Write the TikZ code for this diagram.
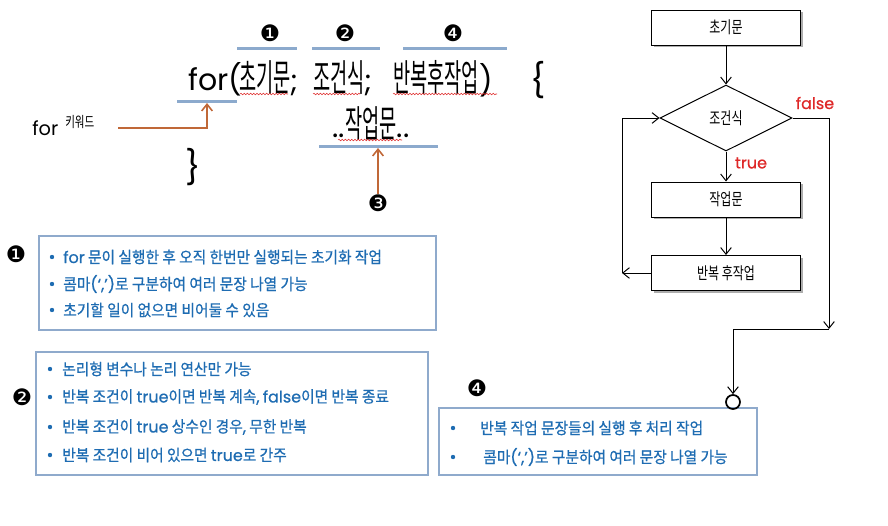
\documentclass[tikz,border=0pt]{standalone}
\usepackage{fontspec}
\setmainfont{Noto Sans CJK KR}
\newfontfamily\kr[FakeStretch=0.92,FakeBold=0.7]{Noto Sans CJK KR}
\newfontfamily\krT[FakeStretch=0.5]{Noto Sans CJK KR}
\newfontfamily\krF[FakeStretch=0.72]{Noto Sans CJK KR}
\newfontfamily\lat{Poppins}
\newfontfamily\latB[FakeBold=0.7]{Poppins}
\newfontfamily\dv{DejaVu Sans}
\newcommand\la[1]{{\lat #1}}
\newcommand\lb[1]{{\latB #1}}
\usetikzlibrary{arrows.meta,shadows,decorations.pathmorphing,shapes.geometric}
\definecolor{txtblue}{RGB}{30,108,178}
\definecolor{boxedge}{RGB}{143,170,204}
\definecolor{barblue}{RGB}{140,170,205}
\definecolor{arrorange}{RGB}{192,104,56}
\definecolor{fred}{RGB}{222,40,40}
\begin{document}
\begin{tikzpicture}[x=0.75pt,y=-0.75pt,
  bar/.style={barblue,line width=2.25pt},
  oarr/.style={arrorange,line width=1.5pt,-{Straight Barb[length=5pt,width=8pt,line width=1.2pt]}},
  farr/.style={black,line width=0.75pt,-{Straight Barb[length=5pt,width=8pt]}},
  fbox/.style={draw,line width=0.75pt,fill=white,minimum width=111.75pt,minimum height=26.25pt,inner sep=0,
    font=\krF\fontsize{12.5}{14}\selectfont,
    drop shadow={shadow xshift=1.5pt,shadow yshift=-1.5pt,fill=black!40,opacity=0.8}},
  ttl/.style={inner sep=0,font=\krT\fontsize{28}{30}\selectfont},
  ttlat/.style={inner sep=0,font=\lat\fontsize{22.5}{26}\selectfont},
  num/.style={inner sep=0,font=\dv\fontsize{17}{18}\selectfont},
  txt/.style={anchor=west,inner sep=0,text=txtblue,font=\kr\fontsize{12}{14}\selectfont},
  tbox/.style={draw=boxedge,line width=0.9pt},
  squig/.style={fred,line width=0.4pt,decorate,decoration={snake,amplitude=0.6pt,segment length=2.4pt}},
  lbl/.style={inner sep=0,text=fred,font=\latB\fontsize{12}{14}\selectfont},
  dot/.style={txtblue}
]
\useasboundingbox (0,0) rectangle (888,525);

% ---------------- title statement ----------------
\node[ttlat,anchor=base west] (t0) at (188,90) {for(};
\node[ttl,anchor=base west] (t1) at (239,91) {초기문{\lat\fontsize{22.5}{26}\selectfont;}};
\node[ttl,anchor=base west] (t2) at (313,91) {조건식{\lat\fontsize{22.5}{26}\selectfont;}};
\node[ttl,anchor=base west] (t3) at (393,91) {반복후작업{\lat\fontsize{22.5}{26}\selectfont)}};
\node[ttlat,anchor=base west,font=\lat\fontsize{25}{28}\selectfont] (t4) at (530,92) {\{};
\node[ttl,anchor=base] (t5) at (371,137) {{\lat\fontsize{22.5}{26}\selectfont..}작업문{\lat\fontsize{22.5}{26}\selectfont..}};
\node[ttlat,font=\lat\fontsize{25}{28}\selectfont] (t6) at (193,167) {\}};

% spell-check squiggles
\draw[squig] (240,94) -- (288,94);
\draw[squig] (313,94) -- (360,94);
\draw[squig] (393,94) -- (497,94);
\draw[squig] (338,140) -- (402,140);

% blue bars
\draw[bar] (237,48) -- (297,48);
\draw[bar] (312,48) -- (380,48);
\draw[bar] (403,48) -- (507,48);
\draw[bar] (177,101) -- (237,101);
\draw[bar] (319,146) -- (438,146);

% numbers
\node[num] (n1) at (270,33) {❶};
\node[num] (n2) at (345,33) {❷};
\node[num] (n4) at (453,33) {❹};
\node[num] (n3) at (378,203) {❸};

% for keyword
\node[anchor=base west,inner sep=0,font=\lat\fontsize{14.5}{16}\selectfont] (kwf) at (32,135) {for};
\node[anchor=base west,inner sep=0,font=\krF\fontsize{11}{12}\selectfont] (kwk) at (65,127) {키워드};
\coordinate (ka) at (118,128);
\coordinate (fb) at (207,103);
\draw[oarr] (ka) -| (fb);
\coordinate (b3) at (378,148);
\draw[oarr] (n3.north) -- (b3);

% ---------------- explanation boxes ----------------
\draw[tbox] (39,236) rectangle (436,330);
\node[num] (m1) at (16,254) {❶};
\fill[dot] (52,257) circle[radius=2.2];
\fill[dot] (52,284) circle[radius=2.2];
\fill[dot] (52,310) circle[radius=2.2];
\node[txt] (a1) at (63,257) {\lb{for} 문이 실행한 후 오직 한번만 실행되는 초기화 작업};
\node[txt] (a2) at (63,284) {콤마\lb{(‘,’)}로 구분하여 여러 문장 나열 가능};
\node[txt] (a3) at (63,310) {초기할 일이 없으면 비어둘 수 있음};

\draw[tbox] (36,352) rectangle (428,475);
\node[num] (m2) at (22,397) {❷};
\fill[dot] (50,369) circle[radius=2.2];
\fill[dot] (50,397) circle[radius=2.2];
\fill[dot] (50,427) circle[radius=2.2];
\fill[dot] (50,455) circle[radius=2.2];
\node[txt] (c1) at (62,369) {논리형 변수나 논리 연산만 가능};
\node[txt] (c2) at (62,397) {반복 조건이 \lb{true}이면 반복 계속\lb{,} \lb{false}이면 반복 종료};
\node[txt] (c3) at (62,427) {반복 조건이 \lb{true} 상수인 경우\lb{,} 무한 반복};
\node[txt] (c4) at (62,455) {반복 조건이 비어 있으면 \lb{true}로 간주};

\draw[tbox] (439,408) rectangle (757,475);
\node[num] (m4) at (477,388) {❹};
\fill[dot] (453,428) circle[radius=2.2];
\fill[dot] (453,457) circle[radius=2.2];
\node[txt] (d1) at (480,428) {반복 작업 문장들의 실행 후 처리 작업};
\node[txt] (d2) at (483,457) {콤마\lb{(‘,’)}로 구분하여 여러 문장 나열 가능};

% ---------------- flowchart ----------------
\node[fbox] (init) at (726,27.5) {초기문};
\node[diamond,draw,line width=0.75pt,fill=white,minimum width=99pt,minimum height=49.5pt,inner sep=0,
      font=\krF\fontsize{12.5}{14}\selectfont] (cond) at (726,118) {조건식};
\node[fbox] (work) at (726,199.5) {작업문};
\node[fbox] (rep) at (726,273) {반복 후작업};
\node[lbl] (lf) at (815,103) {false};
\node[lbl] (lt) at (751,163) {true};
\node[circle,draw,line width=1.3pt,minimum size=10.5pt,inner sep=0] (circ) at (733,402) {};

\coordinate (lb) at (622,273);
\coordinate (fe) at (829,329);
\draw[farr] (init) -- (cond);
\draw[farr] (cond) -- (work);
\draw[farr] (work) -- (rep);
\draw[farr] (rep.west) -- (lb);
\draw[farr] (lb) |- (cond.west);
\draw[farr] (cond.east) -| (fe);
\draw[farr] (fe) -| (circ.north);
\end{tikzpicture}
\end{document}
